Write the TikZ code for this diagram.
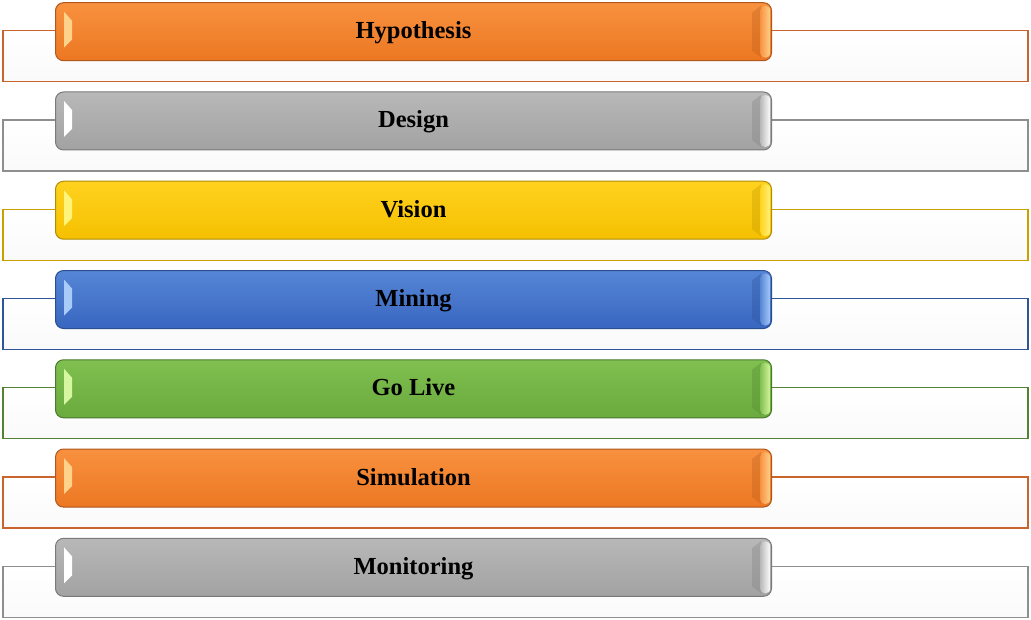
\documentclass[tikz,border=0pt]{standalone}
\usepackage{fontspec}
\setmainfont{Liberation Serif}
\usepackage{tikz}

\definecolor{orangetop}{HTML}{F8913F}
\definecolor{orangebot}{HTML}{EC7722}
\definecolor{orangeline}{HTML}{B0571C}
\definecolor{orangeedge}{HTML}{C8642C}
\definecolor{orangelight}{HTML}{FFD28C}
\definecolor{greytop}{HTML}{B8B8B8}
\definecolor{greybot}{HTML}{A2A2A2}
\definecolor{greyline}{HTML}{7A7A7A}
\definecolor{greyedge}{HTML}{8E8E8E}
\definecolor{greylight}{HTML}{FFFFFF}
\definecolor{yellowtop}{HTML}{FFD21F}
\definecolor{yellowbot}{HTML}{F5C000}
\definecolor{yellowline}{HTML}{B08C08}
\definecolor{yellowedge}{HTML}{C9A000}
\definecolor{yellowlight}{HTML}{FFF47A}
\definecolor{bluetop}{HTML}{5686D6}
\definecolor{bluebot}{HTML}{3866C0}
\definecolor{blueline}{HTML}{2B4F8E}
\definecolor{blueedge}{HTML}{2F5597}
\definecolor{bluelight}{HTML}{A8CBF7}
\definecolor{greentop}{HTML}{80C050}
\definecolor{greenbot}{HTML}{6AAA3E}
\definecolor{greenline}{HTML}{4A7A2C}
\definecolor{greenedge}{HTML}{548235}
\definecolor{greenlight}{HTML}{D6F7A0}

\tikzset{
  stageback/.style={draw=#1edge, line width=1.3pt, top color=white, bottom color=black!2,
    minimum width=1025pt, minimum height=51pt, inner sep=0pt},
  stagebar/.style={draw=#1line, line width=1pt, rounded corners=8pt,
    top color=#1top, bottom color=#1bot, minimum width=716pt, minimum height=58pt,
    text height=19pt, text depth=5pt, inner sep=0pt,
    font=\bfseries\fontsize{24.5}{28}\selectfont}
}

\begin{document}
\begin{tikzpicture}[x=1pt,y=-1pt]
\useasboundingbox (0,0) rectangle (1031,620);

\foreach \i/\stage/\tone in {0/Hypothesis/orange, 1/Design/grey, 2/Vision/yellow,
    3/Mining/blue, 4/Go Live/green, 5/Simulation/orange, 6/Monitoring/grey}
{
  \pgfmathsetmacro\y{2.7+89.27*\i}
  \node[stageback=\tone] (back\i) at (515.5,\y+53.5) {};
  \node[stagebar=\tone] (bar\i) at (413.5,\y+29) {\stage};
  % bevel highlights
  \fill[\tone light] (64,\y+9) -- (72,\y+18) -- (72,\y+37) -- (64,\y+45) -- cycle;
  \fill[\tone bot!80!black, opacity=0.35] (752,\y+10) -- (761,\y+3) -- (761,\y+55) -- (752,\y+48) -- cycle;
  \shade[left color=\tone top, right color=\tone light, rounded corners=5pt]
    (760,\y+3) rectangle (770.5,\y+55);
}
\end{tikzpicture}
\end{document}
